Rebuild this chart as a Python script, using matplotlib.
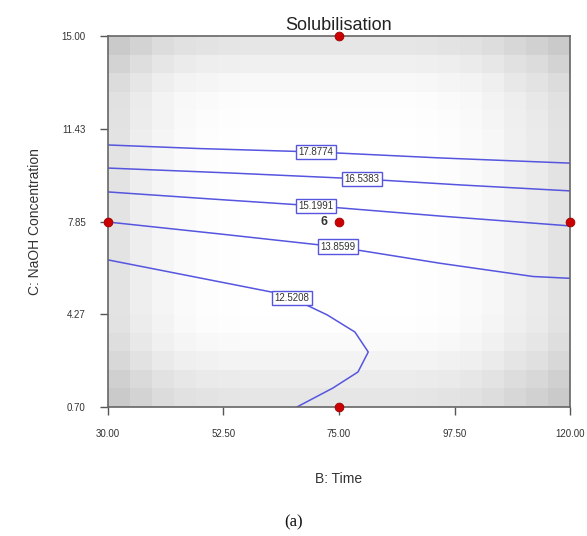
import numpy as np
import matplotlib
matplotlib.use("Agg")
import matplotlib.pyplot as plt

plt.rcParams['font.family'] = ['Liberation Sans', 'DejaVu Sans']

# ---- data ----
x_ticks = [30.00, 52.50, 75.00, 97.50, 120.00]
y_ticks = [0.70, 4.27, 7.85, 11.43, 15.00]

contour_levels = ["17.8774", "16.5383", "15.1991", "13.8599", "12.5208"]
c1_x = [30, 48, 70.5, 94.7, 120]
c1_y = [10.80, 10.66, 10.53, 10.30, 10.10]
c2_x = [30, 53.8, 79.5, 98.6, 120]
c2_y = [9.91, 9.72, 9.49, 9.26, 9.03]
c3_x = [30, 49.9, 70.5, 94.7, 120]
c3_y = [8.99, 8.72, 8.45, 8.06, 7.68]
c4_x = [30, 51.8, 74.8, 94.7, 112.8, 120]
c4_y = [7.83, 7.37, 6.87, 6.24, 5.73, 5.66]
c5_x = [30, 61.9, 65.8, 72.7, 78.1, 80.7, 78.7, 73.8, 66.8]
c5_y = [6.37, 5.13, 4.90, 4.25, 3.59, 2.82, 2.05, 1.43, 0.70]
label_index = [2, 2, 2, 2, 2]

design_x = [30, 120, 75, 75, 75]
design_y = [7.85, 7.85, 15.00, 0.70, 7.85]
center_reps = "6"

# background shading (darkness per column / row, edges darker)
col_dark = [0.11, 0.07, 0.04, 0.02, 0.01, 0.005, 0, 0, 0, 0, 0, 0, 0, 0, 0.005, 0.01, 0.02, 0.035, 0.06, 0.08, 0.11]
row_dark = [0.10, 0.06, 0.03, 0.01, 0.005, 0, 0, 0, 0, 0, 0, 0, 0, 0, 0, 0.005, 0.02, 0.045, 0.075, 0.10]

# ---- figure ----
fig = plt.figure(figsize=(5.87, 5.36), dpi=100)
ax = fig.add_axes([108/587, 1-407/536, 462/587, 371/536])

shade = 1 - (np.array(row_dark)[:, None] + np.array(col_dark)[None, :])
shade = np.clip(shade, 0, 1)
ax.imshow(shade, cmap='gray', vmin=0, vmax=1, extent=[30, 120, 0.70, 15.00],
          aspect='auto', interpolation='nearest', origin='upper', zorder=0)

line_col = '#5555e0'
lines = [(c1_x, c1_y), (c2_x, c2_y), (c3_x, c3_y), (c4_x, c4_y), (c5_x, c5_y)]
for (lx, ly), lab, li in zip(lines, contour_levels, label_index):
    ax.plot(lx, ly, color=line_col, lw=1.1, zorder=2)
    ax.text(lx[li], ly[li], lab, fontsize=7, color='#333333', ha='center', va='center',
            zorder=3, bbox=dict(boxstyle='square,pad=0.25', fc='white', ec=line_col, lw=1.0))

ax.scatter(design_x, design_y, s=40, color='#cc0000', edgecolor='#990000', lw=0.6,
           zorder=5, clip_on=False)
ax.text(design_x[4] - 2.2, design_y[4], center_reps, fontsize=9, fontweight='bold',
        color='#333333', ha='right', va='center', zorder=5)

ax.set_xlim(30, 120)
ax.set_ylim(0.70, 15.00)
ax.set_xticks(x_ticks)
ax.set_xticklabels([f"{v:.2f}" for v in x_ticks])
ax.set_yticks(y_ticks)
ax.set_yticklabels([f"{v:.2f}" for v in y_ticks])
ax.tick_params(direction='out', length=6, width=1, color='#555555',
               labelsize=7, labelcolor='#333333', pad=10)
for s in ax.spines.values():
    s.set_color('#666666')
    s.set_linewidth(1.2)

ax.set_title("Solubilisation", fontsize=13, color='#222222', pad=4)
fig.text(339/587, 1-479/536, "B: Time", fontsize=10, color='#333333', ha='center', va='center')
fig.text(35/587, 1-222/536, "C: NaOH Concentration", fontsize=10, color='#333333',
         ha='center', va='center', rotation=90)
fig.text(294/587, 1-522/536, "(a)", fontsize=12, family='Liberation Serif', color='#111111',
         ha='center', va='center')

fig.savefig("out.png", dpi=100)
